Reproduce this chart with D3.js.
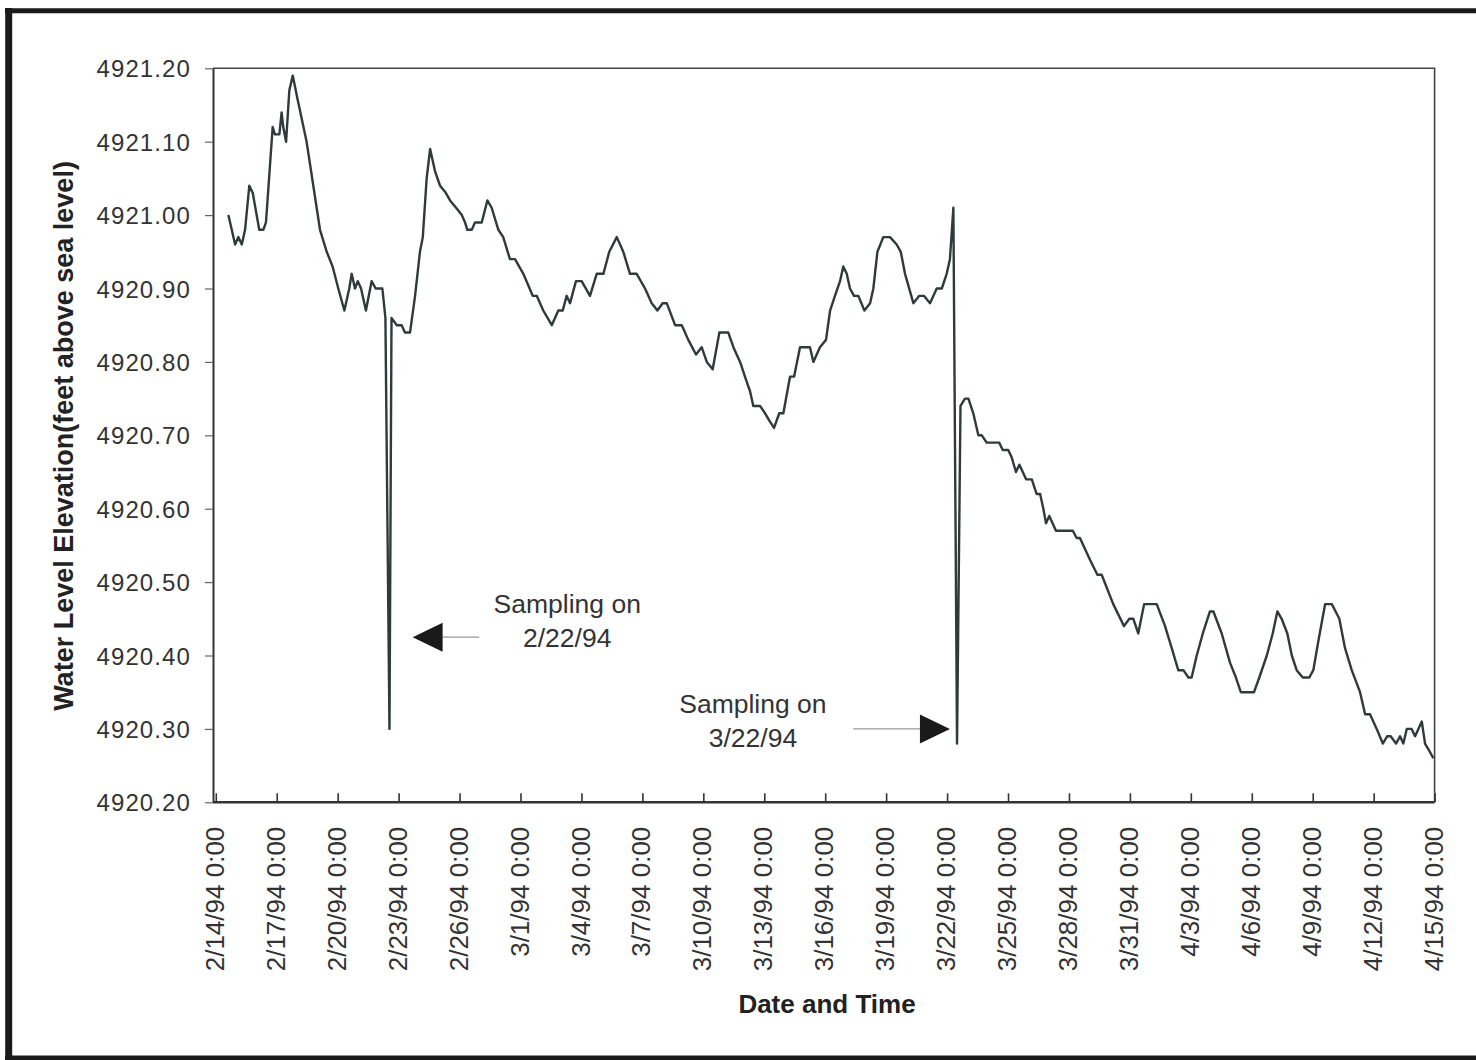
<!DOCTYPE html>
<html>
<head>
<meta charset="utf-8">
<script src="https://cdn.jsdelivr.net/npm/d3@7"></script>
<style>
  body { margin: 0; background: #fff; }
  svg { display: block; }
</style>
</head>
<body>
<script>
// Well water level record, 2/14/94 – 4/15/94.
// Time of each reading, in days after 2/14/94 0:00.
const dayOffsets = [
  0.62, 0.95, 1.11, 1.28, 1.44, 1.65, 1.82, 2.14, 2.34, 2.47,
  2.80, 2.91, 3.13, 3.24, 3.32, 3.46, 3.62, 3.79, 4.01, 4.47,
  4.80, 5.13, 5.46, 5.75, 6.03, 6.33, 6.57, 6.69, 6.85, 6.99,
  7.15, 7.39, 7.67, 7.87, 8.20, 8.35, 8.55, 8.65, 8.91, 9.15,
  9.31, 9.56, 9.81, 10.05, 10.19, 10.38, 10.55, 10.79, 11.04, 11.33,
  11.53, 11.83, 12.11, 12.27, 12.38, 12.60, 12.76, 13.09, 13.37, 13.58,
  13.91, 14.15, 14.48, 14.73, 15.14, 15.60, 15.80, 16.12, 16.54, 16.86,
  17.08, 17.27, 17.44, 17.73, 18.01, 18.42, 18.75, 19.08, 19.37, 19.74,
  20.06, 20.39, 20.72, 21.13, 21.46, 21.74, 22.00, 22.20, 22.61, 22.94,
  23.26, 23.64, 23.92, 24.17, 24.46, 24.79, 25.23, 25.48, 25.81, 26.05,
  26.30, 26.46, 26.79, 27.04, 27.25, 27.48, 27.74, 27.94, 28.27, 28.47,
  28.76, 29.25, 29.42, 29.74, 30.04, 30.24, 30.48, 30.73, 30.89, 31.06,
  31.22, 31.42, 31.63, 31.93, 32.21, 32.37, 32.57, 32.86, 33.19, 33.52,
  33.72, 33.93, 34.34, 34.63, 34.86, 35.16, 35.49, 35.74, 35.98, 36.14,
  36.31, 36.49, 36.66, 36.88, 37.05, 37.29, 37.54, 37.71, 37.95, 38.57,
  38.74, 39.01, 39.18, 39.39, 39.56, 39.89, 40.17, 40.41, 40.58, 40.74,
  40.87, 41.03, 41.36, 42.19, 42.38, 42.54, 43.04, 43.40, 43.61, 44.18,
  44.71, 44.97, 45.17, 45.41, 45.70, 46.32, 46.73, 47.06, 47.38, 47.63,
  47.88, 48.04, 48.29, 48.59, 48.94, 49.11, 49.52, 49.93, 50.22, 50.46,
  51.11, 51.37, 51.74, 52.03, 52.26, 52.47, 52.75, 52.97, 53.21, 53.51,
  53.83, 54.03, 54.28, 54.61, 54.94, 55.31, 55.59, 55.92, 56.33, 56.58,
  56.82, 57.15, 57.45, 57.67, 57.84, 58.10, 58.30, 58.46, 58.63, 58.87,
  59.04, 59.37, 59.53, 59.74, 59.94
];

// Water level elevation (feet above sea level) at each reading.
const elevations = [
  4921.00, 4920.96, 4920.97, 4920.96, 4920.98, 4921.04, 4921.03, 4920.98, 4920.98, 4920.99,
  4921.12, 4921.11, 4921.11, 4921.14, 4921.12, 4921.10, 4921.17, 4921.19, 4921.16, 4921.10,
  4921.04, 4920.98, 4920.95, 4920.93, 4920.90, 4920.87, 4920.90, 4920.92, 4920.90, 4920.91,
  4920.90, 4920.87, 4920.91, 4920.90, 4920.90, 4920.86, 4920.30, 4920.86, 4920.85, 4920.85,
  4920.84, 4920.84, 4920.89, 4920.95, 4920.97, 4921.05, 4921.09, 4921.06, 4921.04, 4921.03,
  4921.02, 4921.01, 4921.00, 4920.99, 4920.98, 4920.98, 4920.99, 4920.99, 4921.02, 4921.01,
  4920.98, 4920.97, 4920.94, 4920.94, 4920.92, 4920.89, 4920.89, 4920.87, 4920.85, 4920.87,
  4920.87, 4920.89, 4920.88, 4920.91, 4920.91, 4920.89, 4920.92, 4920.92, 4920.95, 4920.97,
  4920.95, 4920.92, 4920.92, 4920.90, 4920.88, 4920.87, 4920.88, 4920.88, 4920.85, 4920.85,
  4920.83, 4920.81, 4920.82, 4920.80, 4920.79, 4920.84, 4920.84, 4920.82, 4920.80, 4920.78,
  4920.76, 4920.74, 4920.74, 4920.73, 4920.72, 4920.71, 4920.73, 4920.73, 4920.78, 4920.78,
  4920.82, 4920.82, 4920.80, 4920.82, 4920.83, 4920.87, 4920.89, 4920.91, 4920.93, 4920.92,
  4920.90, 4920.89, 4920.89, 4920.87, 4920.88, 4920.90, 4920.95, 4920.97, 4920.97, 4920.96,
  4920.95, 4920.92, 4920.88, 4920.89, 4920.89, 4920.88, 4920.90, 4920.90, 4920.92, 4920.94,
  4921.01, 4920.28, 4920.74, 4920.75, 4920.75, 4920.73, 4920.70, 4920.70, 4920.69, 4920.69,
  4920.68, 4920.68, 4920.67, 4920.65, 4920.66, 4920.64, 4920.64, 4920.62, 4920.62, 4920.60,
  4920.58, 4920.59, 4920.57, 4920.57, 4920.56, 4920.56, 4920.53, 4920.51, 4920.51, 4920.47,
  4920.44, 4920.45, 4920.45, 4920.43, 4920.47, 4920.47, 4920.44, 4920.41, 4920.38, 4920.38,
  4920.37, 4920.37, 4920.40, 4920.43, 4920.46, 4920.46, 4920.43, 4920.39, 4920.37, 4920.35,
  4920.35, 4920.37, 4920.40, 4920.43, 4920.46, 4920.45, 4920.43, 4920.40, 4920.38, 4920.37,
  4920.37, 4920.38, 4920.42, 4920.47, 4920.47, 4920.45, 4920.41, 4920.38, 4920.35, 4920.32,
  4920.32, 4920.30, 4920.28, 4920.29, 4920.29, 4920.28, 4920.29, 4920.28, 4920.30, 4920.30,
  4920.29, 4920.31, 4920.28, 4920.27, 4920.26
];

// Category axis labels (every third day) and value axis ticks.
const xTickLabels = [
  "2/14/94 0:00", "2/17/94 0:00", "2/20/94 0:00", "2/23/94 0:00", "2/26/94 0:00",
  "3/1/94 0:00", "3/4/94 0:00", "3/7/94 0:00", "3/10/94 0:00", "3/13/94 0:00",
  "3/16/94 0:00", "3/19/94 0:00", "3/22/94 0:00", "3/25/94 0:00", "3/28/94 0:00",
  "3/31/94 0:00", "4/3/94 0:00", "4/6/94 0:00", "4/9/94 0:00", "4/12/94 0:00",
  "4/15/94 0:00"
];
const yTicks = [4920.20, 4920.30, 4920.40, 4920.50, 4920.60, 4920.70, 4920.80, 4920.90, 4921.00, 4921.10, 4921.20];

// Sampling events: arrow tip position (day offset, elevation) and caption lines.
const samplingDays = [9.69, 36.14];
const samplingLevels = [4920.425, 4920.30];
const samplingCaptions = [["Sampling on", "2/22/94"], ["Sampling on", "3/22/94"]];
const samplingPointsLeft = [true, false];

const W = 1476, H = 1060;
const FONT = "'Liberation Sans', Arial, Helvetica, sans-serif";
const INK = "#333";
const LINE = "#2e3b39";

const parseTick = d3.utcParse("%m/%d/%y %H:%M");
const tickDates = xTickLabels.map(parseTick);
const start = tickDates[0];
const end = tickDates[tickDates.length - 1];
const toDate = d => new Date(start.getTime() + d * 864e5);

const plot = { left: 213, right: 1434.6, top: 68.3, bottom: 802.3 };

const x = d3.scaleUtc().domain([start, end]).range([215.8, plot.right]);
const y = d3.scaleLinear().domain([4920.2, 4921.2]).range([plot.bottom, plot.top]);

const svg = d3.select("body").append("svg")
  .attr("width", W).attr("height", H)
  .style("font-family", FONT);

svg.append("rect").attr("width", W).attr("height", H).attr("fill", "#fff");

// Outer border of the figure
const border = svg.append("g").attr("stroke", "#1a1a1a").attr("fill", "none");
border.append("line").attr("x1", 5).attr("x2", W + 5).attr("y1", 10.8).attr("y2", 10.8).attr("stroke-width", 5);
border.append("line").attr("x1", 8.7).attr("x2", 8.7).attr("y1", 8).attr("y2", H + 5).attr("stroke-width", 7);
border.append("line").attr("x1", 5).attr("x2", W + 5).attr("y1", 1058).attr("y2", 1058).attr("stroke-width", 5);

// Plot area frame (top and right)
svg.append("path")
  .attr("d", `M${plot.left},${plot.top}H${plot.right}V${plot.bottom}`)
  .attr("fill", "none").attr("stroke", "#444").attr("stroke-width", 1.6);

// Value axis
const yAxis = svg.append("g")
  .attr("transform", `translate(${plot.left},0)`)
  .call(d3.axisLeft(y).tickValues(yTicks).tickFormat(d3.format(".2f")).tickSize(8).tickSizeOuter(0));
yAxis.select(".domain").attr("stroke", INK).attr("stroke-width", 2);
yAxis.selectAll(".tick line").attr("stroke", "#666").attr("stroke-width", 1.2);
yAxis.selectAll(".tick text")
  .attr("x", -22).attr("dy", null).attr("y", 8.6)
  .attr("fill", INK).style("font-size", "24px").style("letter-spacing", "1.1px")
  .attr("font-family", FONT);

// Time axis
const xAxis = svg.append("g")
  .attr("transform", `translate(0,${plot.bottom})`)
  .call(d3.axisBottom(x).tickValues(tickDates)
    .tickFormat((d, i) => xTickLabels[i]).tickSizeInner(-9).tickSizeOuter(0));
xAxis.select(".domain").attr("stroke", INK).attr("stroke-width", 2.6)
  .attr("d", `M${plot.left},0H${plot.right}`);
xAxis.selectAll(".tick line").attr("stroke", INK).attr("stroke-width", 1.6);
xAxis.selectAll(".tick text")
  .attr("transform", "rotate(-90)")
  .attr("x", -24.4).attr("y", 7.6).attr("dy", null)
  .attr("text-anchor", "end")
  .attr("fill", INK).style("font-size", "26px")
  .attr("font-family", FONT);

// Water level trace
const series = dayOffsets.map((d, i) => ({ t: toDate(d), v: elevations[i] }));
svg.append("path")
  .datum(series)
  .attr("fill", "none")
  .attr("stroke", LINE)
  .attr("stroke-width", 2.4)
  .attr("stroke-linejoin", "round")
  .attr("d", d3.line().x(d => x(d.t)).y(d => y(d.v)));

// Axis titles
svg.append("text")
  .attr("transform", `translate(72.7,436) rotate(-90)`)
  .attr("text-anchor", "middle")
  .attr("fill", "#222").style("font-size", "27px").style("font-weight", "bold")
  .text("Water Level Elevation(feet above sea level)");

svg.append("text")
  .attr("x", 827).attr("y", 1012.7)
  .attr("text-anchor", "middle")
  .attr("fill", "#222").style("font-size", "26px").style("font-weight", "bold")
  .text("Date and Time");

// Sampling annotations
samplingDays.forEach((d, i) => {
  const tx = x(toDate(d)), ty = y(samplingLevels[i]);
  const g = svg.append("g");
  const dir = samplingPointsLeft[i] ? 1 : -1;
  const baseX = tx + dir * 30;
  const tailX = samplingPointsLeft[i] ? tx + 66.6 : tx - 96.7;
  g.append("line").attr("x1", baseX).attr("x2", tailX).attr("y1", ty).attr("y2", ty)
    .attr("stroke", "#999").attr("stroke-width", 1.2);
  g.append("path")
    .attr("d", `M${tx},${ty}L${baseX},${ty - 14.5}L${baseX},${ty + 14.5}Z`)
    .attr("fill", "#1a1a1a");
  const cx = samplingPointsLeft[i] ? tx + 154.6 : tx - 197;
  const y1 = samplingPointsLeft[i] ? ty - 24.6 : ty - 16;
  const t = g.append("text").attr("text-anchor", "middle").attr("fill", INK)
    .style("font-size", "26.5px");
  samplingCaptions[i].forEach((line, k) => {
    t.append("tspan").attr("x", cx).attr("y", y1 + k * 34.5).text(line);
  });
});
</script>
</body>
</html>
